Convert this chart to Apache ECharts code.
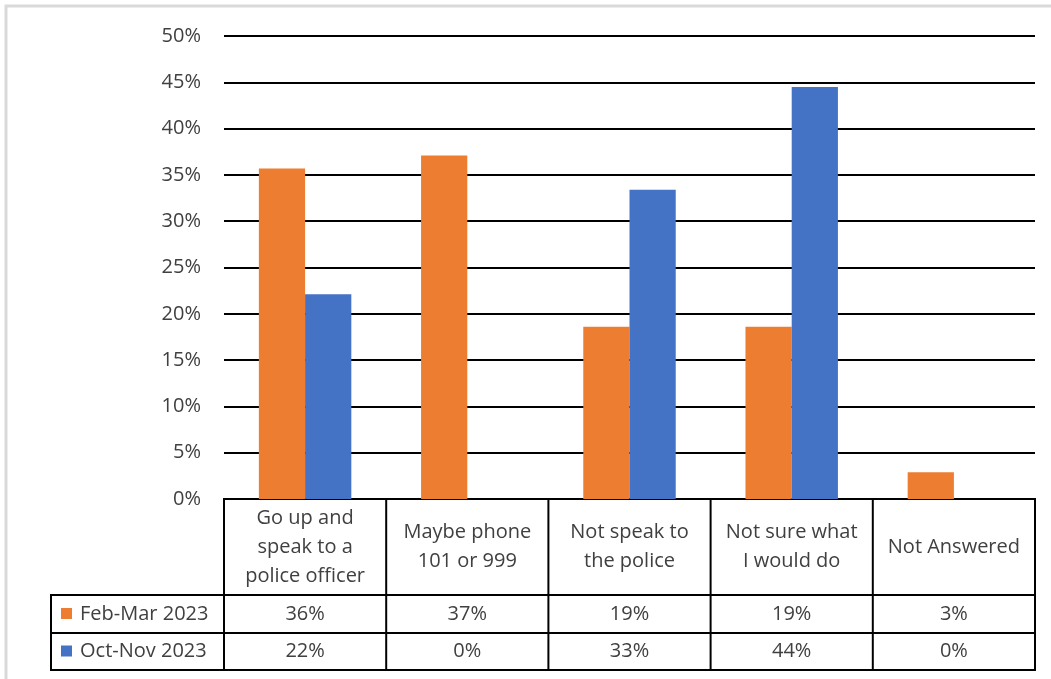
<!DOCTYPE html>
<html>
<head>
<meta charset="utf-8">
<script src="https://cdn.jsdelivr.net/npm/echarts@6/dist/echarts.min.js"></script>
<style>
  html, body { margin: 0; padding: 0; background: #fff; }
  #main { width: 1051px; height: 679px; }
</style>
</head>
<body>
<div id="main"></div>
<script>
// data
const categories = ['Go up and\nspeak to a\npolice officer', 'Maybe phone\n101 or 999', 'Not speak to\nthe police', 'Not sure what\nI would do', 'Not Answered'];
const seriesNames = ['Feb-Mar 2023', 'Oct-Nov 2023'];
const febMar = [35.7, 37.1, 18.6, 18.6, 2.9];
const octNov = [22.1, 0, 33.4, 44.5, 0];
const febMarLabels = ['36%', '37%', '19%', '19%', '3%'];
const octNovLabels = ['22%', '0%', '33%', '44%', '0%'];
const colors = ['#ED7D31', '#4472C4'];

const FONT = '"Open Sans", "Liberation Sans", Arial, sans-serif';
const TEXT = '#404040';

let myChart = echarts.init(document.getElementById('main'));

myChart.setOption({
  animation: false,
  grid: { left: 224, right: 16, top: 36, bottom: 180, containLabel: false },
  xAxis: {
    type: 'category',
    data: categories,
    axisLine: { show: true, lineStyle: { color: '#000', width: 2 } },
    axisTick: { show: false },
    axisLabel: { show: false },
    splitLine: { show: false },
  },
  yAxis: {
    type: 'value',
    min: 0,
    max: 50,
    interval: 5,
    axisLine: { show: false },
    axisTick: { show: false },
    axisLabel: {
      formatter: '{value}%',
      margin: 23,
      fontSize: 20,
      fontFamily: FONT,
      color: TEXT,
    },
    splitLine: { lineStyle: { color: '#000', width: 2 } },
  },
  series: [
    {
      name: seriesNames[0],
      type: 'bar',
      data: febMar,
      itemStyle: { color: colors[0] },
      barGap: '0%',
      barCategoryGap: '43%',
    },
    {
      name: seriesNames[1],
      type: 'bar',
      data: octNov,
      itemStyle: { color: colors[1] },
      barGap: '0%',
      barCategoryGap: '43%',
    },
  ],
});

// data table under the plot, laid out from the category axis
function drawTable() {
  const n = categories.length;
  const c0 = myChart.convertToPixel({ xAxisIndex: 0 }, 0);
  const c1 = myChart.convertToPixel({ xAxisIndex: 0 }, 1);
  const bw = c1 - c0;
  const left = c0 - bw / 2;
  const right = left + bw * n;
  const yTop = myChart.convertToPixel({ yAxisIndex: 0 }, 0);
  const rows = [yTop, yTop + 96, yTop + 134, yTop + 171];
  const legendLeft = 51;
  const line = { stroke: '#000', lineWidth: 2 };
  const g = [];

  // outer chart frame (only top and left edges visible)
  g.push({ type: 'rect', shape: { x: 6, y: 6, width: 1200, height: 800 }, style: { fill: 'none', stroke: '#d9d9d9', lineWidth: 3 }, silent: true });

  for (let r = 1; r < rows.length; r++) {
    g.push({ type: 'line', shape: { x1: legendLeft, y1: rows[r], x2: right + 1, y2: rows[r] }, style: line });
  }
  g.push({ type: 'line', shape: { x1: legendLeft, y1: rows[1] - 1, x2: legendLeft, y2: rows[3] + 1 }, style: line });
  for (let i = 0; i <= n; i++) {
    const x = left + bw * i;
    g.push({ type: 'line', shape: { x1: x, y1: rows[0] - 1, x2: x, y2: rows[3] + 1 }, style: line });
  }

  const rowLabels = [febMarLabels, octNovLabels];
  for (let i = 0; i < n; i++) {
    const cx = left + bw * (i + 0.5);
    g.push({
      type: 'text', x: cx, y: (rows[0] + rows[1]) / 2,
      style: { text: categories[i], align: 'center', verticalAlign: 'middle', font: '20px ' + FONT, fill: TEXT, lineHeight: 29 },
    });
    for (let r = 0; r < 2; r++) {
      g.push({
        type: 'text', x: cx, y: (rows[r + 1] + rows[r + 2]) / 2,
        style: { text: rowLabels[r][i], align: 'center', verticalAlign: 'middle', font: '20px ' + FONT, fill: TEXT },
      });
    }
  }
  for (let r = 0; r < 2; r++) {
    const cy = (rows[r + 1] + rows[r + 2]) / 2;
    g.push({ type: 'rect', shape: { x: 61, y: cy - 6, width: 11, height: 11 }, style: { fill: colors[r] } });
    g.push({
      type: 'text', x: 80, y: cy,
      style: { text: seriesNames[r], align: 'left', verticalAlign: 'middle', font: '20px ' + FONT, fill: TEXT },
    });
  }
  myChart.setOption({ graphic: g });
}
drawTable();
</script>
</body>
</html>
